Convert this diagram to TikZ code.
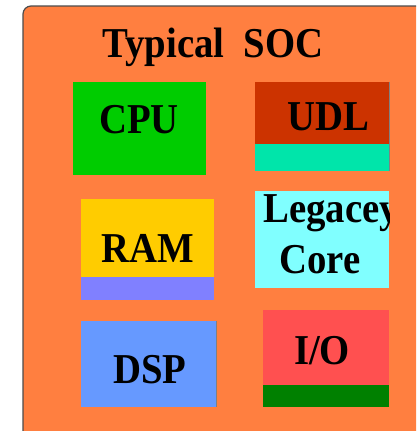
\documentclass[tikz,border=0pt]{standalone}
\usepackage{fontspec}
\setmainfont{Liberation Serif}
\usepackage{xcolor}
\usepackage{graphicx}
\usetikzlibrary{positioning}
\definecolor{socorange}{HTML}{FF7F40}
\definecolor{cpugreen}{HTML}{00CC00}
\definecolor{udlred}{HTML}{CC3300}
\definecolor{udlteal}{HTML}{00E5AA}
\definecolor{ramyellow}{HTML}{FFCC00}
\definecolor{ramblue}{HTML}{8080FF}
\definecolor{corecyan}{HTML}{80FFFF}
\definecolor{dspblue}{HTML}{6699FF}
\definecolor{iored}{HTML}{FF5050}
\definecolor{iogreen}{HTML}{008000}
\newcommand{\tall}[1]{\scalebox{1.02}[1.12]{#1}}
\tikzset{
  lbl/.style={inner sep=0pt, anchor=base, font=\bfseries\fontsize{38}{44}\selectfont},
}
\begin{document}
\begin{tikzpicture}[x=1pt,y=-1pt]
\useasboundingbox (0,0) rectangle (416,431);
\clip (0,0) rectangle (416,431);
% chip outline
\draw[fill=socorange, draw=black!70, line width=1.2pt, rounded corners=8pt] (23,6) rectangle (440,450);
\node[lbl] (title) at (213,57) {\tall{Typical\ \ SOC}};
% blocks
\fill[cpugreen] (73,82) rectangle (206,175);
\node[lbl] (cpu) at (139,133) {\tall{CPU}};
\fill[udlred] (255,82) rectangle (389,144);
\fill[udlteal] (255,144) rectangle (389,171);
\draw[black!50, line width=0.8pt] (389,82) -- (389,171);
\node[lbl] (udl) at (328,130) {\tall{UDL}};
\fill[ramyellow] (81,199) rectangle (214,277);
\fill[ramblue] (81,277) rectangle (214,300);
\node[lbl] (ram) at (148,262) {\tall{RAM}};
\begin{scope}
\clip (255,191) rectangle (389,288);
\fill[corecyan] (255,191) rectangle (389,288);
\node[lbl, anchor=base west] (legacy) at (263,222) {\tall{Legacey}};
\node[lbl] (core) at (320,273) {\tall{Core}};
\end{scope}
\fill[dspblue] (81,321) rectangle (216,407);
\draw[black!50, line width=0.8pt] (216,321) -- (216,407);
\node[lbl] (dsp) at (150,383) {\tall{DSP}};
\fill[iored] (263,310) rectangle (389,385);
\fill[iogreen] (263,385) rectangle (389,407);
\node[lbl] (io) at (322,364) {\tall{I/O}};
\end{tikzpicture}
\end{document}
